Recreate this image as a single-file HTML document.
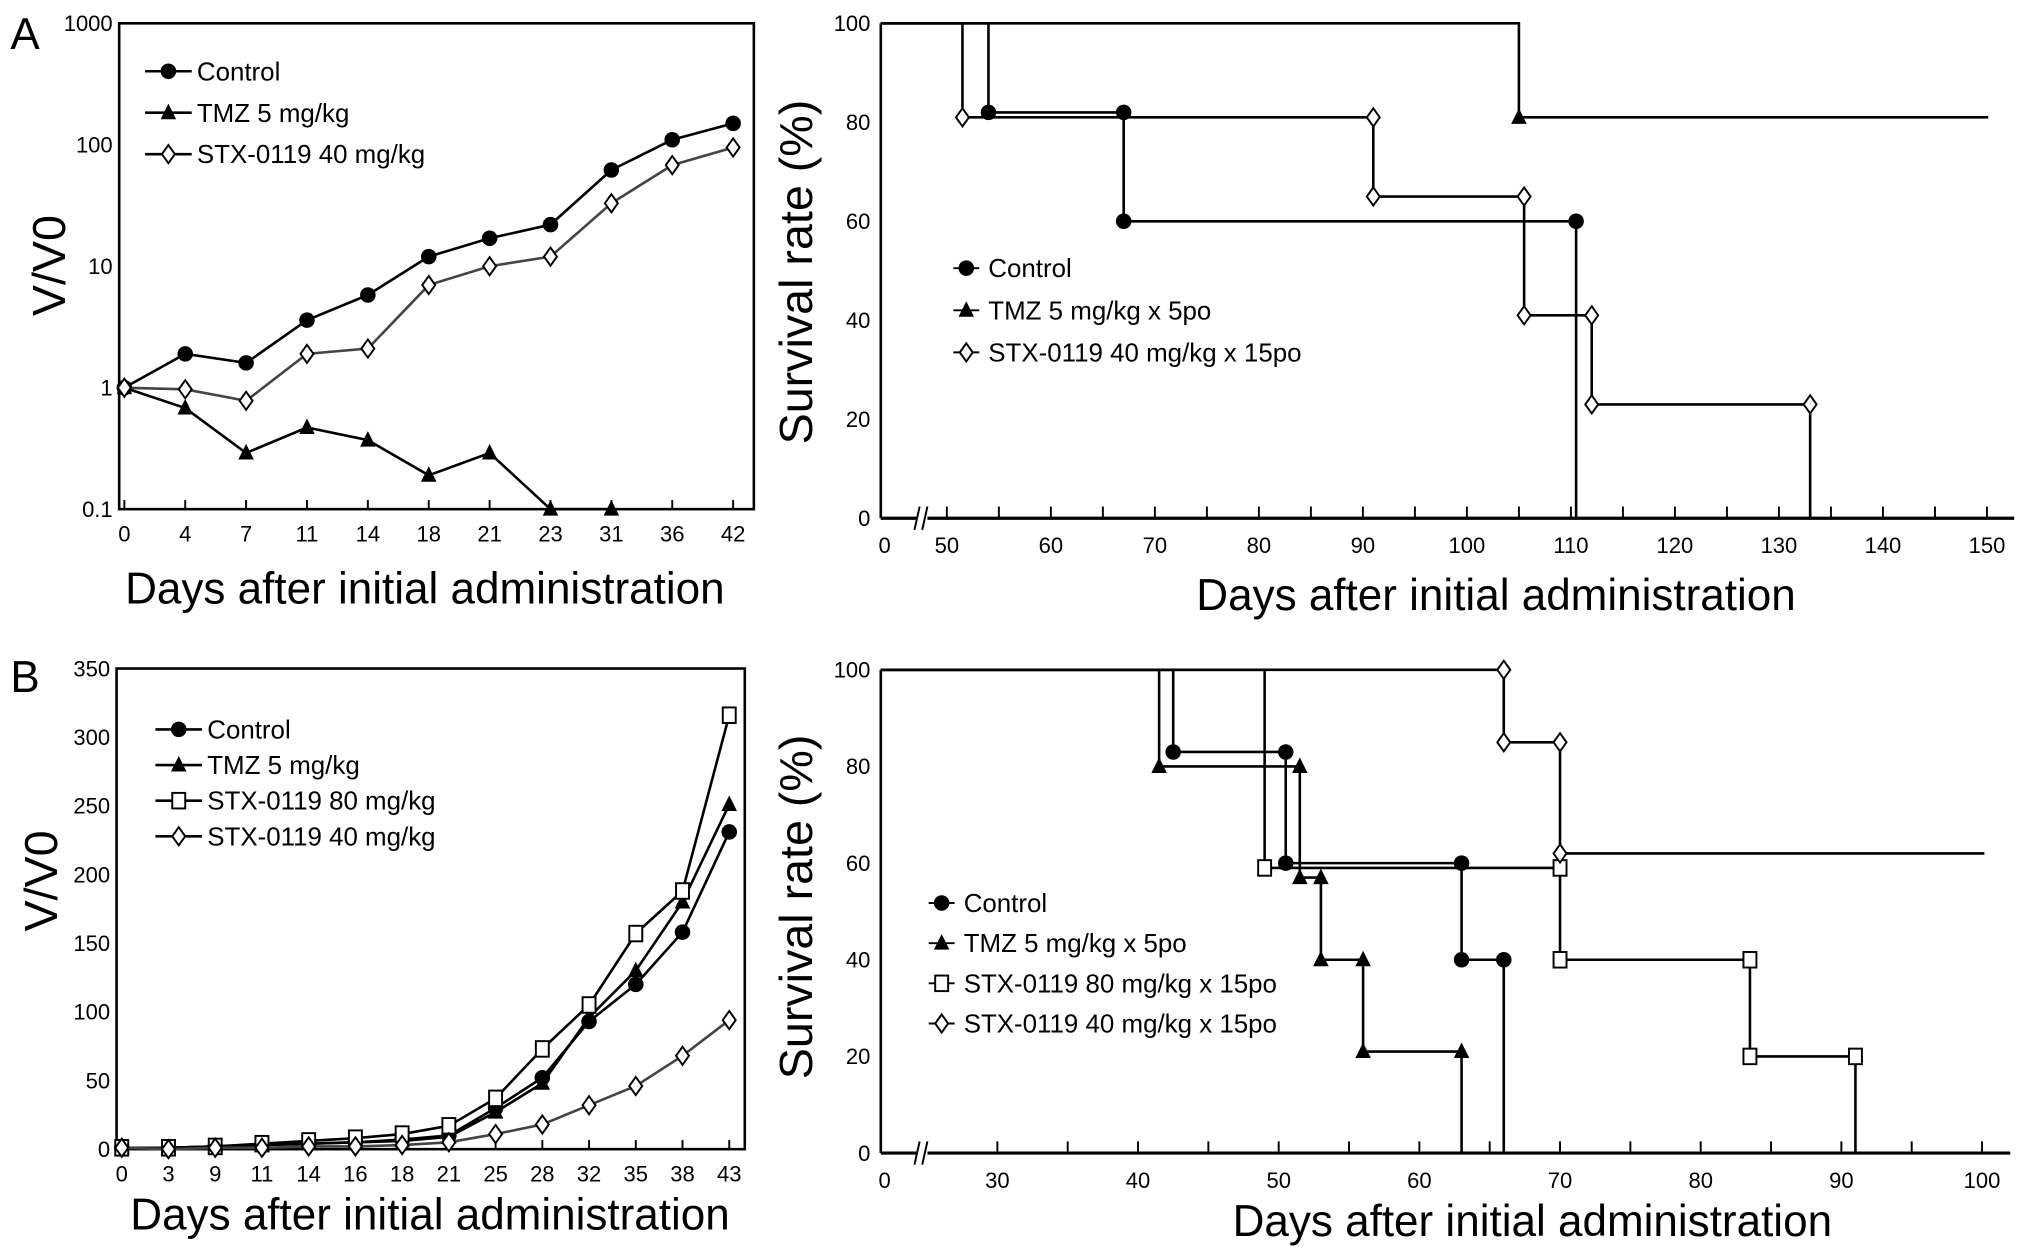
<!DOCTYPE html>
<html><head><meta charset="utf-8"><style>
html,body{margin:0;padding:0;background:#fff;}
svg{display:block;font-family:"Liberation Sans",Arial,sans-serif;}
</style></head><body>
<svg id="fig" width="2031" height="1258" viewBox="0 0 1568 971" preserveAspectRatio="none">
<text x="8" y="38" font-size="34">A</text>
<text x="8" y="534" font-size="34">B</text>
<g id="g1"></g>
<g id="g2"></g>
<g id="g3"></g>
<g id="g4"></g>
</svg>
<script>
// Panel A growth
const aDays = ["0","4","7","11","14","18","21","23","31","36","42"];
const aControl = [1,1.9,1.6,3.6,5.8,12,17,22,62,110,150];
const aTMZ = [1,0.68,0.29,0.47,0.37,0.19,0.29,0.1,0.1];
const aSTX40 = [1,0.97,0.78,1.9,2.1,7,10,12,33,68,95];
const aYTicks = ["0.1","1","10","100","1000"];
// Panel B growth
const bDays = ["0","3","9","11","14","16","18","21","25","28","32","35","38","43"];
const bControl = [1,1,2,3,4,5,7,10,30,52,93,120,158,231];
const bTMZ = [1,1,2,3,4,5,6,9,27,48,96,130,180,251];
const bSTX80 = [1,1,2,4,6,8,11,17,37,73,105,157,188,316];
const bSTX40 = [1,0,1,1,2,2,3,5,11,18,32,46,68,94];
const bYTicks = [0,50,100,150,200,250,300,350];
// Panel A survival: drop days and levels after drop
const saControlDays = [54,67,110.5];
const saControlLevels = [82,60,0];
const saTMZDays = [105];
const saTMZLevels = [81];
const saSTXDays = [51.5,91,105.5,112,133];
const saSTXLevels = [81,65,41,23,0];
const saXTicks = [50,60,70,80,90,100,110,120,130,140,150];
// Panel B survival
const sbControlDays = [42.5,50.5,63,66];
const sbControlLevels = [83,60,40,0];
const sbTMZDays = [41.5,51.5,53,56,63];
const sbTMZLevels = [80,57,40,21,0];
const sbSTX80Days = [49,70,83.5,91];
const sbSTX80Levels = [59,40,20,0];
const sbSTX40Days = [66,70];
const sbSTX40Levels = [85,62];
const sbXTicks = [30,40,50,60,70,80,90,100];
const survYTicks = [0,20,40,60,80,100];

const NS="http://www.w3.org/2000/svg";
function el(p,tag,attrs){const e=document.createElementNS(NS,tag);for(const k in attrs)e.setAttribute(k,attrs[k]);p.appendChild(e);return e;}
function txt(p,x,y,s,size,anchor,extra){const t=el(p,'text',Object.assign({x:x,y:y,'font-size':size,'text-anchor':anchor||'start'},extra||{}));t.textContent=s;return t;}
function marker(p,type,x,y,r){
  r=r||6;let m;
  if(type==='circle') m=el(p,'circle',{cx:x,cy:y,r:r,fill:'#000'});
  else if(type==='tri') m=el(p,'path',{d:`M${x},${y-r-1}L${x+r},${y+r-1}L${x-r},${y+r-1}Z`,fill:'#000'});
  else if(type==='diamond') m=el(p,'path',{d:`M${x},${y-r-1}L${x+r-1},${y}L${x},${y+r+1}L${x-r+1},${y}Z`,fill:'#fff',stroke:'#000','stroke-width':1.5});
  else m=el(p,'rect',{x:x-5,y:y-6,width:10,height:12,fill:'#fff',stroke:'#000','stroke-width':1.5});
  return m;
}
function growth(g,opt){
  const {L,R,T,B,x0,x1,cats,ticks,yf,series,legend,titleX,titleY,yTitleX}=opt;
  el(g,'rect',{x:L,y:T,width:R-L,height:B-T,fill:'none',stroke:'#000','stroke-width':2});
  const xf=i=>x0+(x1-x0)*i/(cats.length-1);
  cats.forEach((c,i)=>{
    const t=txt(g,xf(i),B+25,c,17,'middle');
    
    
    el(g,'line',{x1:xf(i),x2:xf(i),y1:B,y2:B-7,stroke:'#000','stroke-width':1.5});
  });
  ticks.forEach(v=>{
    const t=txt(g,L-5,yf(v)+6,String(v),17,'end');
    
    
  });
  series.forEach(s=>{
    const pts=s.data.map((v,i)=>[xf(i),yf(v)]);
    const pl=el(g,'polyline',{points:pts.map(p=>p.join(',')).join(' '),fill:'none',stroke:s.grey?'#444':'#000','stroke-width':2});
    
    
    pts.forEach(p=>{const m=marker(g,s.m,p[0],p[1]);
      
      });
  });
  legend.items.forEach((it,i)=>{
    const y=legend.y+i*legend.dy;
    el(g,'line',{x1:legend.x,x2:legend.x+36,y1:y,y2:y,stroke:'#000','stroke-width':2});
    marker(g,it.m,legend.x+18,y);
    const t=txt(g,legend.x+40,y+7,it.label,20,'start');
    
    
  });
  const xt=txt(g,titleX[0],titleX[1],'Days after initial administration',34,'middle');
  
  
  const yt=txt(g,0,0,'V/V0',36,'middle',{transform:`translate(${yTitleX},${titleY}) rotate(-90)`});
  
  
}
function survival(g,opt){
  const {L,R,T,B,xf,xticks,series,legend,titleX,yTitle}=opt;
  const yf=v=>B-(B-T)*v/100;
  el(g,'line',{x1:L,x2:L,y1:T,y2:B,stroke:'#000','stroke-width':2});
  el(g,'line',{x1:L,x2:R,y1:B,y2:B,stroke:'#000','stroke-width':2.5});
  el(g,'rect',{x:L+28,y:B-8,width:8,height:16,fill:'#fff'});
  el(g,'line',{x1:L+26,x2:L+30,y1:B+9,y2:B-9,stroke:'#000','stroke-width':1.5});
  el(g,'line',{x1:L+32,x2:L+36,y1:B+9,y2:B-9,stroke:'#000','stroke-width':1.5});
  txt(g,L+3,B+27,'0',17,'middle');
  for(let v=xticks[0];v<=xticks[xticks.length-1];v+=5){
    el(g,'line',{x1:xf(v),x2:xf(v),y1:B,y2:B-9,stroke:'#000','stroke-width':1.5});
  }
  xticks.forEach(v=>{const t=txt(g,xf(v),B+27,String(v),17,'middle');
    
    });
  survYTicks.forEach(v=>{const t=txt(g,L-8,yf(v)+6,String(v),17,'end');
    
    });
  series.forEach(s=>{
    let d=`M${L},${yf(100)}`;let prev=100;
    const marks=[];
    if(s.topMark) marks.push([xf(s.days[0]),yf(100)]);
    s.days.forEach((day,i)=>{
      d+=` L${xf(day)},${yf(prev)} L${xf(day)},${yf(s.levels[i])}`;
      if(s.levels[i]>0) marks.push([xf(day),yf(s.levels[i])]);
      if(i>0 && prev<100) marks.push([xf(day),yf(prev)]);
      prev=s.levels[i];
    });
    if(prev>0) d+=` L${R-20},${yf(prev)}`;
    const p=el(g,'path',{d:d,fill:'none',stroke:'#000','stroke-width':2});
    
    
    marks.forEach(m=>{const mk=marker(g,s.m,m[0],m[1]);
      
      });
  });
  legend.items.forEach((it,i)=>{
    const y=legend.y+i*legend.dy;
    el(g,'line',{x1:legend.x-10,x2:legend.x+10,y1:y,y2:y,stroke:'#000','stroke-width':1.5});
    marker(g,it.m,legend.x,y);
    const t=txt(g,legend.x+17,y+7,it.label,20,'start');
    
    
  });
  const xt=txt(g,titleX[0],titleX[1],'Days after initial administration',34,'middle');
  
  
  const yt=txt(g,0,0,'Survival rate (%)',36,'middle',{transform:`translate(${yTitle[0]},${yTitle[1]}) rotate(-90)`});
  
  
}
const g1=document.getElementById('g1');
growth(g1,{L:92,R:582,T:18,B:393,x0:96,x1:566,cats:aDays,ticks:aYTicks,
  yf:v=>393-(Math.log10(Number(v))+1)*(375/4),
  series:[{name:'control',data:aControl,m:'circle'},{name:'tmz',data:aTMZ,m:'tri'},{name:'stx40',data:aSTX40,m:'diamond',grey:true}],
  legend:{x:112,y:55,dy:32,items:[{m:'circle',label:'Control'},{m:'tri',label:'TMZ 5 mg/kg'},{m:'diamond',label:'STX-0119 40 mg/kg'}]},
  titleX:[328,466],titleY:205,yTitleX:50});
const g3=document.getElementById('g3');
growth(g3,{L:90,R:575,T:516,B:887,x0:94,x1:563,cats:bDays,ticks:bYTicks,
  yf:v=>887-Number(v)*(371/350),
  series:[{name:'control',data:bControl,m:'circle'},{name:'tmz',data:bTMZ,m:'tri'},{name:'stx80',data:bSTX80,m:'square'},{name:'stx40',data:bSTX40,m:'diamond',grey:true}],
  legend:{x:120,y:563,dy:27.5,items:[{m:'circle',label:'Control'},{m:'tri',label:'TMZ 5 mg/kg'},{m:'square',label:'STX-0119 80 mg/kg'},{m:'diamond',label:'STX-0119 40 mg/kg'}]},
  titleX:[332,949],titleY:680,yTitleX:44});
const g2=document.getElementById('g2');
survival(g2,{L:680,R:1555,T:18,B:400,xf:d=>731+(d-50)*8.03,xticks:saXTicks,
  series:[{name:'control',days:saControlDays,levels:saControlLevels,m:'circle'},{name:'tmz',days:saTMZDays,levels:saTMZLevels,m:'tri'},{name:'stx40',days:saSTXDays,levels:saSTXLevels,m:'diamond'}],
  legend:{x:746,y:207,dy:32.5,items:[{m:'circle',label:'Control'},{m:'tri',label:'TMZ 5 mg/kg x 5po'},{m:'diamond',label:'STX-0119 40 mg/kg x 15po'}]},
  titleX:[1155,471],yTitle:[627,210]});
const g4=document.getElementById('g4');
survival(g4,{L:680,R:1552,T:517,B:890,xf:d=>770+(d-30)*10.86,xticks:sbXTicks,
  series:[{name:'control',days:sbControlDays,levels:sbControlLevels,m:'circle'},{name:'tmz',days:sbTMZDays,levels:sbTMZLevels,m:'tri'},{name:'stx80',days:sbSTX80Days,levels:sbSTX80Levels,m:'square'},{name:'stx40',days:sbSTX40Days,levels:sbSTX40Levels,m:'diamond',topMark:true}],
  legend:{x:727,y:697,dy:31,items:[{m:'circle',label:'Control'},{m:'tri',label:'TMZ 5 mg/kg x 5po'},{m:'square',label:'STX-0119 80 mg/kg x 15po'},{m:'diamond',label:'STX-0119 40 mg/kg x 15po'}]},
  titleX:[1183,954],yTitle:[627,700]});
</script>
</body></html>
